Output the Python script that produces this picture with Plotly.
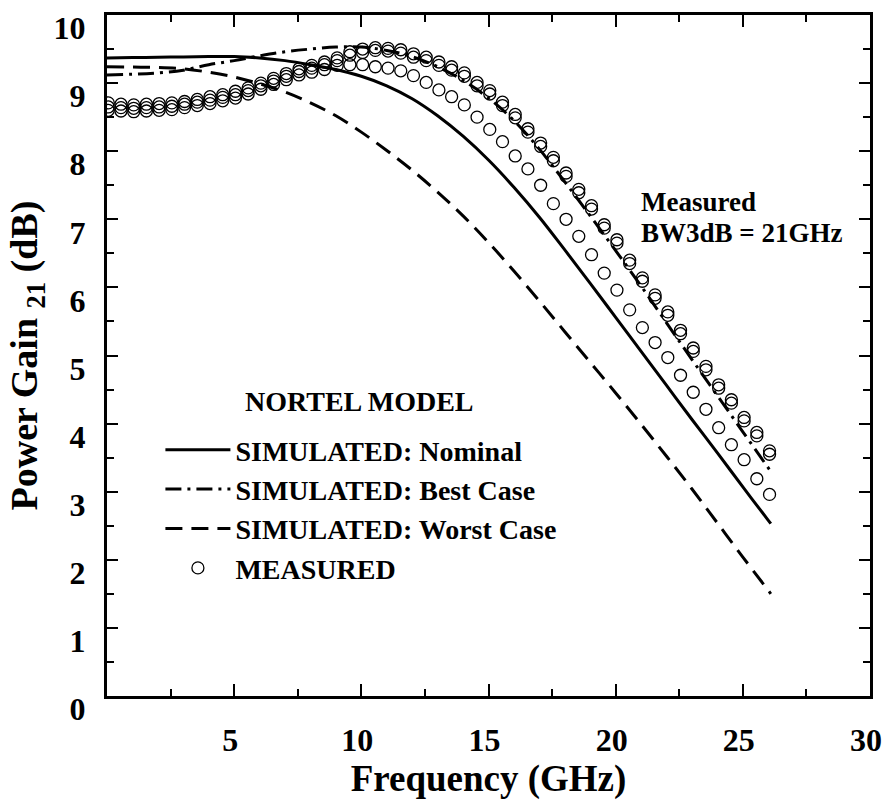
import plotly.graph_objects as go

# ---- data ----
freq_sim = [0, 1, 2, 3, 4, 5, 6, 7, 8, 9, 10, 11, 12, 13, 14, 15, 16, 17, 18, 19, 20,
            21, 22, 23, 24, 25, 26, 26.1]
nominal = [9.37, 9.375, 9.38, 9.385, 9.39, 9.39, 9.37, 9.33, 9.27, 9.20, 9.10, 8.96, 8.77,
           8.52, 8.22, 7.87, 7.47, 7.03, 6.55, 6.06, 5.56, 5.06, 4.56, 4.06, 3.57, 3.07,
           2.58, 2.53]
best = [9.12, 9.13, 9.15, 9.19, 9.27, 9.33, 9.40, 9.46, 9.50, 9.53, 9.53, 9.48, 9.39,
        9.24, 9.04, 8.78, 8.45, 8.03, 7.55, 7.05, 6.54, 6.02, 5.48, 4.94, 4.41, 3.88,
        3.35, 3.30]
worst = [9.24, 9.235, 9.23, 9.21, 9.16, 9.09, 8.99, 8.87, 8.71, 8.52, 8.28, 8.01, 7.72,
         7.40, 7.05, 6.66, 6.24, 5.80, 5.35, 4.90, 4.45, 3.99, 3.52, 3.04, 2.54, 2.04,
         1.55, 1.50]

freq_meas = [0.05, 0.55, 1.05, 1.55, 2.05, 2.55, 3.05, 3.55, 4.05, 4.55, 5.05, 5.55, 6.05,
             6.55, 7.05, 7.55, 8.05, 8.55, 9.05, 9.55, 10.05, 10.55, 11.05, 11.55, 12.05,
             12.55, 13.05, 13.55, 14.05, 14.55, 15.05, 15.55, 16.05, 16.55, 17.05, 17.55,
             18.05, 18.55, 19.05, 19.55, 20.05, 20.55, 21.05, 21.55, 22.05, 22.55, 23.05,
             23.55, 24.05, 24.55, 25.05, 25.55, 26.05]
meas_a = [8.71, 8.69, 8.68, 8.69, 8.70, 8.71, 8.73, 8.76, 8.80, 8.83, 8.88, 8.93, 9.00,
          9.07, 9.14, 9.21, 9.26, 9.31, 9.37, 9.46, 9.50, 9.52, 9.51, 9.49, 9.43, 9.38,
          9.31, 9.24, 9.15, 9.01, 8.89, 8.72, 8.54, 8.33, 8.12, 7.91, 7.68, 7.44, 7.20,
          6.92, 6.70, 6.40, 6.14, 5.89, 5.64, 5.37, 5.11, 4.84, 4.57, 4.35, 4.09, 3.87,
          3.60]
meas_b = [8.65, 8.64, 8.63, 8.64, 8.65, 8.66, 8.69, 8.72, 8.75, 8.79, 8.83, 8.89, 8.96,
          9.03, 9.10, 9.17, 9.22, 9.27, 9.33, 9.41, 9.45, 9.48, 9.47, 9.44, 9.38, 9.33,
          9.26, 9.19, 9.10, 8.96, 8.84, 8.67, 8.49, 8.28, 8.07, 7.86, 7.63, 7.39, 7.15,
          6.87, 6.65, 6.35, 6.09, 5.84, 5.59, 5.32, 5.06, 4.79, 4.52, 4.30, 4.04, 3.82,
          3.55]
meas_c = [8.60, 8.59, 8.58, 8.59, 8.60, 8.61, 8.64, 8.67, 8.70, 8.74, 8.78, 8.84, 8.91,
          8.98, 9.05, 9.12, 9.16, 9.20, 9.26, 9.27, 9.27, 9.24, 9.22, 9.18, 9.11, 9.01,
          8.90, 8.80, 8.68, 8.50, 8.32, 8.14, 7.93, 7.74, 7.50, 7.23, 7.00, 6.75, 6.48,
          6.21, 5.96, 5.67, 5.41, 5.19, 4.97, 4.71, 4.46, 4.21, 3.94, 3.69, 3.47, 3.19,
          2.96]

x_ticks = [5, 10, 15, 20, 25, 30]
y_ticks = [0, 1, 2, 3, 4, 5, 6, 7, 8, 9, 10]

FONT = "Liberation Serif"

fig = go.Figure()
fig.add_trace(go.Scatter(x=freq_sim, y=nominal, mode="lines", name="SIMULATED: Nominal",
                         line=dict(color="black", width=3, shape="spline")))
fig.add_trace(go.Scatter(x=freq_sim, y=best, mode="lines", name="SIMULATED: Best Case",
                         line=dict(color="black", width=3, shape="spline",
                                   dash="16px,6px,3px,6px")))
fig.add_trace(go.Scatter(x=freq_sim, y=worst, mode="lines", name="SIMULATED: Worst Case",
                         line=dict(color="black", width=3, shape="spline", dash="17px,9px")))
marker = dict(symbol="circle-open", size=12, color="black", line=dict(width=1.3, color="black"))
fig.add_trace(go.Scatter(x=freq_meas, y=meas_a, mode="markers", name="MEASURED",
                         marker=marker))
fig.add_trace(go.Scatter(x=freq_meas, y=meas_b, mode="markers", name="MEASURED",
                         marker=marker, showlegend=False))
fig.add_trace(go.Scatter(x=freq_meas, y=meas_c, mode="markers", name="MEASURED",
                         marker=marker, showlegend=False))

tickfont = dict(family=FONT, size=32, color="black", weight="bold")
titlefont = dict(family=FONT, size=37, color="black", weight="bold")

fig.update_xaxes(range=[0, 30], tickvals=x_ticks, showgrid=False, zeroline=False,
                 showline=True, linewidth=3, linecolor="black", mirror="ticks",
                 ticks="inside", ticklen=12, tickwidth=2, tickcolor="black",
                 minor=dict(dtick=2.5, tick0=0, ticks="inside", ticklen=7, tickwidth=1.5,
                            tickcolor="black"),
                 tickfont=tickfont, ticklabelstandoff=14, ticklabelshift=-4,
                 ticklabeloverflow="allow",
                 title=dict(text="Frequency (GHz)", font=titlefont, standoff=8))
fig.update_yaxes(range=[0, 10], tickvals=y_ticks, showgrid=False, zeroline=False,
                 showline=True, linewidth=3, linecolor="black", mirror="ticks",
                 ticks="inside", ticklen=11, tickwidth=2, tickcolor="black",
                 minor=dict(dtick=0.5, tick0=0, ticks="inside", ticklen=7, tickwidth=1.5,
                            tickcolor="black"),
                 tickfont=tickfont, ticklabelstandoff=12, ticklabelshift=13,
                 ticklabeloverflow="allow",
                 title=dict(text="Power Gain <sub>21</sub> (dB)",
                            font=dict(family=FONT, size=38, color="black", weight="bold"),
                            standoff=5))

annfont = dict(family=FONT, size=27, color="black", weight="bold")
fig.add_annotation(x=20.9, y=7.25, xref="x", yref="y", text="Measured", showarrow=False,
                   xanchor="left", yanchor="middle", font=annfont)
fig.add_annotation(x=20.9, y=6.8, xref="x", yref="y", text="BW3dB = 21GHz", showarrow=False,
                   xanchor="left", yanchor="middle", font=annfont)

legfont = dict(family=FONT, size=28, color="black", weight="bold")
# legend heading
fig.add_annotation(x=(362 - 107) / 770, y=(696 - 399) / 686, xref="paper", yref="paper",
                   text="NORTEL MODEL", showarrow=False, xanchor="center", yanchor="middle",
                   font=legfont)
fig.update_layout(
    width=892, height=804,
    margin=dict(l=107, r=15, t=10, b=108),
    paper_bgcolor="white", plot_bgcolor="white",
    showlegend=True,
    legend=dict(x=0.07, y=(696 - 423) / 686, xanchor="left", yanchor="top", font=legfont,
                bgcolor="rgba(0,0,0,0)", itemwidth=65, tracegroupgap=0),
)

fig.write_html("out.html")
